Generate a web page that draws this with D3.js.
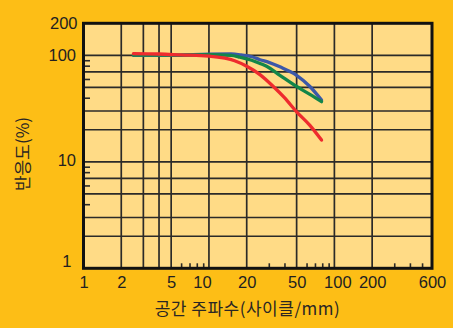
<!DOCTYPE html>
<html>
<head>
<meta charset="utf-8">
<script src="https://cdn.jsdelivr.net/npm/d3@7"></script>
<style>
  html, body { margin: 0; padding: 0; background: #FDBE16; }
  svg { display: block; }
</style>
</head>
<body>
<svg id="chart" width="453" height="328"></svg>
<script>
// Spatial frequency (cycles/mm) vs. response (%)
const blueFreq  = [2.5, 5, 10, 15, 18, 22, 25.5, 30, 36.8, 50, 63.8, 79];
const blueResp  = [100, 100, 102.5, 103, 101, 97, 91, 86, 78, 65, 51, 38];
const greenFreq = [2.5, 5, 10, 15, 17.7, 21.9, 25.5, 28.8, 36.8, 50, 63.8, 79];
const greenResp = [100.5, 100.5, 101.5, 100, 96, 90, 84, 79, 65, 51, 43, 36.7];
const redFreq   = [2.5, 4, 6, 10, 13.4, 16, 20, 25.5, 32.6, 40, 50, 63.8, 79];
const redResp   = [104, 103, 101, 98.5, 94, 89, 79, 66, 51, 40, 29.5, 22, 16];

const xTickLabels = [1, 2, 5, 10, 20, 50, 100, 200, 600];
const yTickLabels = [1, 10, 100, 200];
const xGridValues = [2, 3, 4, 5, 10, 20, 50, 100, 200];
const yGridValues = [2, 3, 5, 7, 10, 20, 30, 50, 70, 100];
const xMinorTicks = [6, 7, 8, 9, 30, 40, 60, 70, 80, 90, 300, 400, 500];
const yMinorTicks = [4, 6, 8, 9, 40, 60, 80, 90];

const xTitle = "공간 주파수(사이클/mm)";
const yTitle = "반응도(%)";

const svg = d3.select("#chart");
const plotL = 83.5, plotR = 432, plotT = 23.3, plotB = 268.3;

const x = d3.scaleLog().domain([1, 600]).range([plotL, plotR]);
const y = d3.scaleLog().domain([1, 200]).range([plotB, plotT]);

// plot background
svg.append("rect")
  .attr("x", plotL).attr("y", plotT)
  .attr("width", plotR - plotL).attr("height", plotB - plotT)
  .attr("fill", "#FFDB86");

// grid lines
const grid = svg.append("g").attr("stroke", "#2b2a28").attr("stroke-width", 1.7);
grid.selectAll("line.v").data(xGridValues).join("line").attr("class", "v")
  .attr("x1", d => x(d)).attr("x2", d => x(d))
  .attr("y1", plotT).attr("y2", plotB);
grid.selectAll("line.h").data(yGridValues).join("line").attr("class", "h")
  .attr("y1", d => y(d)).attr("y2", d => y(d))
  .attr("x1", plotL).attr("x2", plotR);

// minor ticks pointing into the plot
svg.append("g")
  .attr("transform", `translate(0,${plotB})`)
  .call(d3.axisBottom(x).tickValues(xMinorTicks).tickSize(-5).tickFormat(""))
  .call(g => g.select(".domain").remove())
  .call(g => g.selectAll("line").attr("stroke", "#2b2a28").attr("stroke-width", 1.6));
svg.append("g")
  .attr("transform", `translate(${plotL},0)`)
  .call(d3.axisLeft(y).tickValues(yMinorTicks).tickSize(-6.5).tickFormat(""))
  .call(g => g.select(".domain").remove())
  .call(g => g.selectAll("line").attr("stroke", "#2b2a28").attr("stroke-width", 1.6));

// response curves
const series = [
  { freq: blueFreq,  resp: blueResp,  color: "#3C58A8" },
  { freq: greenFreq, resp: greenResp, color: "#138649" },
  { freq: redFreq,   resp: redResp,   color: "#EE2B2E" }
];
const line = d3.line()
  .x(d => x(d[0])).y(d => y(d[1]))
  .curve(d3.curveMonotoneX);
svg.append("g").selectAll("path").data(series).join("path")
  .attr("d", s => line(s.freq.map((f, i) => [f, s.resp[i]])))
  .attr("fill", "none")
  .attr("stroke", s => s.color)
  .attr("stroke-width", 3.3)
  .attr("stroke-linecap", "round")
  .attr("stroke-linejoin", "round");

// frame
svg.append("rect")
  .attr("x", plotL).attr("y", plotT)
  .attr("width", plotR - plotL).attr("height", plotB - plotT)
  .attr("fill", "none").attr("stroke", "#111").attr("stroke-width", 3);

// tick labels
const fontNum = "'Liberation Sans', Arial, Helvetica, sans-serif";
const xNudge = { 10: -7, 100: 3 };
svg.append("g")
  .attr("transform", `translate(0,${plotB})`)
  .call(d3.axisBottom(x).tickValues(xTickLabels).tickSize(0).tickPadding(8).tickFormat(d3.format("d")))
  .call(g => g.select(".domain").remove())
  .call(g => g.selectAll("text")
    .attr("font-family", fontNum).attr("font-size", 16.5).attr("fill", "#231f20")
    .attr("dx", d => xNudge[d] || 0));

const yNudgeY = { 1: -7.5, 10: -1.5, 100: -0.5, 200: 0 };
const yNudgeX = { 1: -4.5, 200: 1.5 };
svg.append("g")
  .attr("transform", `translate(${plotL},0)`)
  .call(d3.axisLeft(y).tickValues(yTickLabels).tickSize(0).tickPadding(7.5).tickFormat(d3.format("d")))
  .call(g => g.select(".domain").remove())
  .call(g => g.selectAll("text")
    .attr("font-family", fontNum).attr("font-size", 16.5).attr("fill", "#231f20")
    .attr("dx", d => yNudgeX[d] || 0)
    .attr("y", d => yNudgeY[d] || 0));

// axis titles
const fontKr = "'Noto Sans CJK KR', 'Noto Sans', sans-serif";
svg.append("text")
  .attr("x", 247.5).attr("y", 315)
  .attr("text-anchor", "middle")
  .attr("font-family", fontKr).attr("font-size", 17).attr("fill", "#2a2624")
  .attr("letter-spacing", 0.5)
  .text(xTitle);
svg.append("text")
  .attr("transform", "translate(29,154) rotate(-90)")
  .attr("text-anchor", "middle")
  .attr("font-family", fontKr).attr("font-size", 17).attr("fill", "#2a2624")
  .text(yTitle);
</script>
</body>
</html>
